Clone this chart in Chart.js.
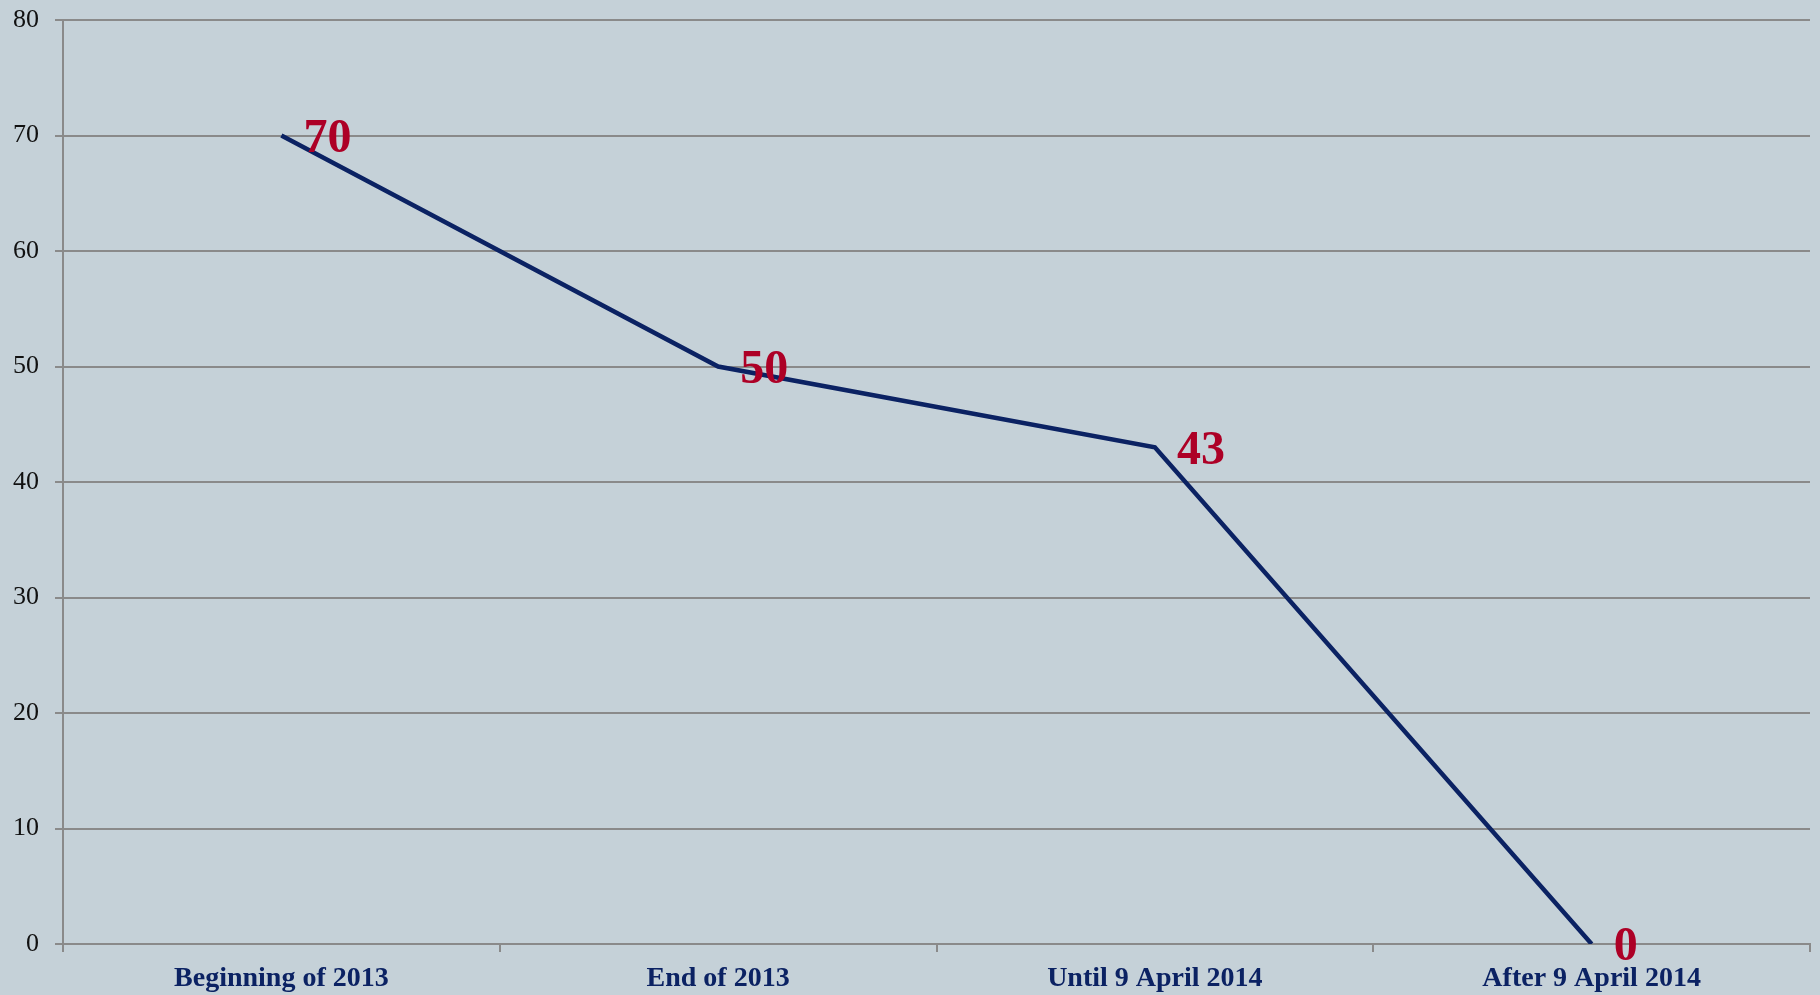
<!DOCTYPE html>
<html>
<head>
<meta charset="utf-8">
<script src="https://cdn.jsdelivr.net/npm/chart.js@4/dist/chart.umd.min.js"></script>
<style>
  html, body { margin: 0; padding: 0; background: #c5d1d8; }
  #wrap { width: 1820px; height: 995px; }
</style>
</head>
<body>
<div id="wrap"><canvas id="chart"></canvas></div>
<script>
const CATEGORIES = ['Beginning of 2013', 'End of 2013', 'Until 9 April 2014', 'After 9 April 2014'];
const VALUES = [70, 50, 43, 0];
const Y_TICKS = [0, 10, 20, 30, 40, 50, 60, 70, 80];

const SERIF = '"Liberation Serif", "DejaVu Serif", serif';

// value labels drawn to the right of each point
const pointLabels = {
  id: 'pointLabels',
  afterDatasetsDraw(chart) {
    const ctx = chart.ctx;
    const meta = chart.getDatasetMeta(0);
    ctx.save();
    ctx.font = 'bold 48px ' + SERIF;
    ctx.fillStyle = '#ad0026';
    ctx.textAlign = 'left';
    ctx.textBaseline = 'middle';
    meta.data.forEach((pt, i) => {
      ctx.fillText(String(VALUES[i]), pt.x + 22, pt.y + 4);
    });
    ctx.restore();
  },
};

new Chart(document.getElementById('chart'), {
  type: 'line',
  data: {
    labels: CATEGORIES,
    datasets: [
      {
        data: VALUES,
        borderColor: '#0b2263',
        borderWidth: 4.5,
        pointRadius: 0,
        tension: 0,
        fill: false,
      },
    ],
  },
  options: {
    responsive: true,
    maintainAspectRatio: false,
    animation: false,
    layout: { padding: { top: 20, right: 10, left: 0, bottom: 0 } },
    plugins: {
      legend: { display: false },
      tooltip: { enabled: false },
    },
    scales: {
      x: {
        offset: true,
        grid: {
          offset: true,
          drawOnChartArea: false,
          color: '#8a8a8a',
          lineWidth: 2,
          tickLength: 8,
        },
        border: { color: '#8a8a8a', width: 2 },
        ticks: {
          color: '#0b2263',
          font: { family: SERIF, size: 28, weight: 'bold' },
          padding: 10,
          maxRotation: 0,
        },
        afterFit(scale) {
          scale.height = 51;
          scale.paddingLeft = 0;
          scale.paddingRight = 0;
        },
      },
      y: {
        min: 0,
        max: 80,
        afterBuildTicks(scale) {
          scale.ticks = Y_TICKS.map((v) => ({ value: v }));
        },
        grid: {
          color: '#8a8a8a',
          lineWidth: 2,
          tickLength: 8,
        },
        border: { color: '#8a8a8a', width: 2 },
        ticks: {
          color: '#111111',
          font: { family: SERIF, size: 26 },
          padding: 16,
        },
        afterFit(scale) {
          scale.width = 63;
          scale.paddingTop = 0;
          scale.paddingBottom = 0;
        },
      },
    },
  },
  plugins: [pointLabels],
});
</script>
</body>
</html>
